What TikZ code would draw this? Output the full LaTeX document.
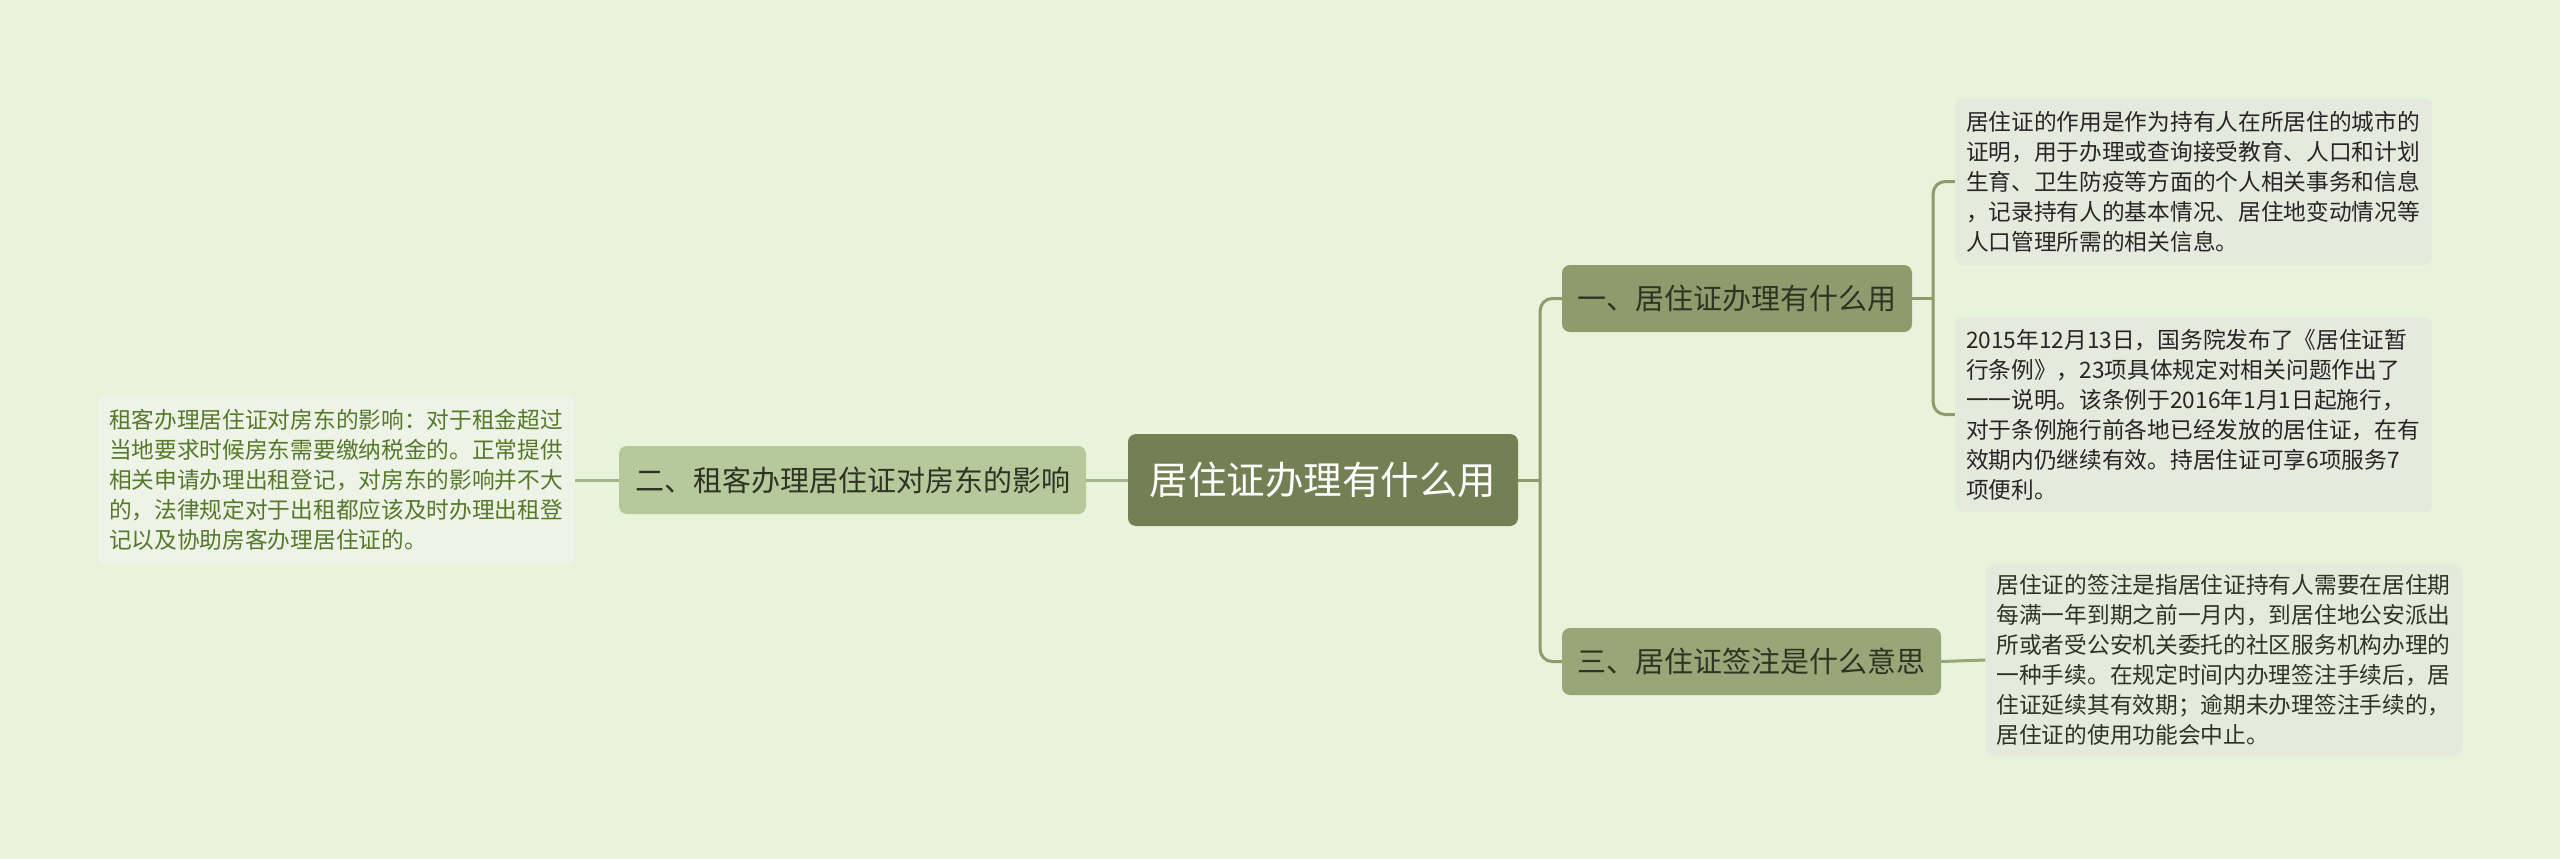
\documentclass[tikz,border=0pt]{standalone}
\usepackage{fontspec}
\setmainfont{Noto Sans CJK SC}
\usetikzlibrary{calc}
\definecolor{bgcol}{HTML}{E7F4DB}
\definecolor{rootcol}{HTML}{738053}
\definecolor{onecol}{HTML}{8D9C6C}
\definecolor{threecol}{HTML}{97A778}
\definecolor{twocol}{HTML}{B6C99B}
\definecolor{leafcol}{HTML}{E6EADD}
\definecolor{leftleafcol}{HTML}{EEF3E7}
\definecolor{leftink}{HTML}{55792A}
\definecolor{darkink}{HTML}{2E3424}

\begin{document}
\begin{tikzpicture}[x=1pt, y=-1pt,
	topic/.style={rounded corners=8pt, inner sep=0pt, minimum height=67pt, font=\fontsize{29}{34}\selectfont, text=darkink},
	leaf/.style={rounded corners=8pt, inner sep=11pt, text width=455pt, align=left, font=\fontsize{22.7}{30}\selectfont},
	link/.style={line width=3pt, color=onecol}]
	\fill[bgcol] (0,0) rectangle (2560,859);
	\useasboundingbox (0,0) rectangle (2560,859);
	\node[rounded corners=8pt, fill=rootcol, text=white, minimum width=390pt, minimum height=92pt, font=\fontsize{38.5}{44}\selectfont] (root) at (1323,480) {居住证办理有什么用};
	\node[topic, fill=onecol, minimum width=350pt] (n1) at (1737,298.5) {一、居住证办理有什么用};
	\node[topic, fill=twocol, minimum width=467pt, minimum height=68pt] (n2) at (852.5,480) {二、租客办理居住证对房东的影响};
	\node[topic, fill=threecol, minimum width=379pt] (n3) at (1751.5,661.5) {三、居住证签注是什么意思};
	\node[leaf, fill=leafcol, minimum height=167pt, text=black!85] (l1) at (2193.5,181.5) {居住证的作用是作为持有人在所居住的城市的\\证明，用于办理或查询接受教育、人口和计划\\生育、卫生防疫等方面的个人相关事务和信息\\，记录持有人的基本情况、居住地变动情况等\\人口管理所需的相关信息。};
	\node[leaf, fill=leafcol, minimum height=195pt, text=black!85] (l2) at (2193.5,414.5) {2015年12月13日，国务院发布了《居住证暂\\行条例》，23项具体规定对相关问题作出了\\一一说明。该条例于2016年1月1日起施行，\\对于条例施行前各地已经发放的居住证，在有\\效期内仍继续有效。持居住证可享6项服务7\\项便利。};
	\node[leaf, fill=leafcol, minimum height=190pt, text=darkink] (l3) at (2224,660) {居住证的签注是指居住证持有人需要在居住期\\每满一年到期之前一月内，到居住地公安派出\\所或者受公安机关委托的社区服务机构办理的\\一种手续。在规定时间内办理签注手续后，居\\住证延续其有效期；逾期未办理签注手续的，\\居住证的使用功能会中止。};
	\node[leaf, fill=leftleafcol, minimum height=170pt, text=leftink] (l0) at (336.5,480) {租客办理居住证对房东的影响：对于租金超过\\当地要求时候房东需要缴纳税金的。正常提供\\相关申请办理出租登记，对房东的影响并不大\\的，法律规定对于出租都应该及时办理出租登\\记以及协助房客办理居住证的。};
	% links
	\coordinate (j1) at ($(root.east)+(22,0)$);
	\coordinate (j2) at ($(n1.east)+(21,0)$);
	\draw[link] (root.east) -- (j1);
	\draw[link, rounded corners=12pt] (n1.west) -| (j1) |- (n3.west);
	\draw[link] (n1.east) -- (j2);
	\draw[link, rounded corners=12pt] (l1.west) -| (j2) |- (l2.west);
	\draw[link, color=threecol] (n3.east) -- (l3.west);
	\draw[link, color=twocol!90!black] (root.west) -- (n2.east);
	\draw[link, color=twocol!90!black] (n2.west) -- (l0.east);
\end{tikzpicture}
\end{document}
